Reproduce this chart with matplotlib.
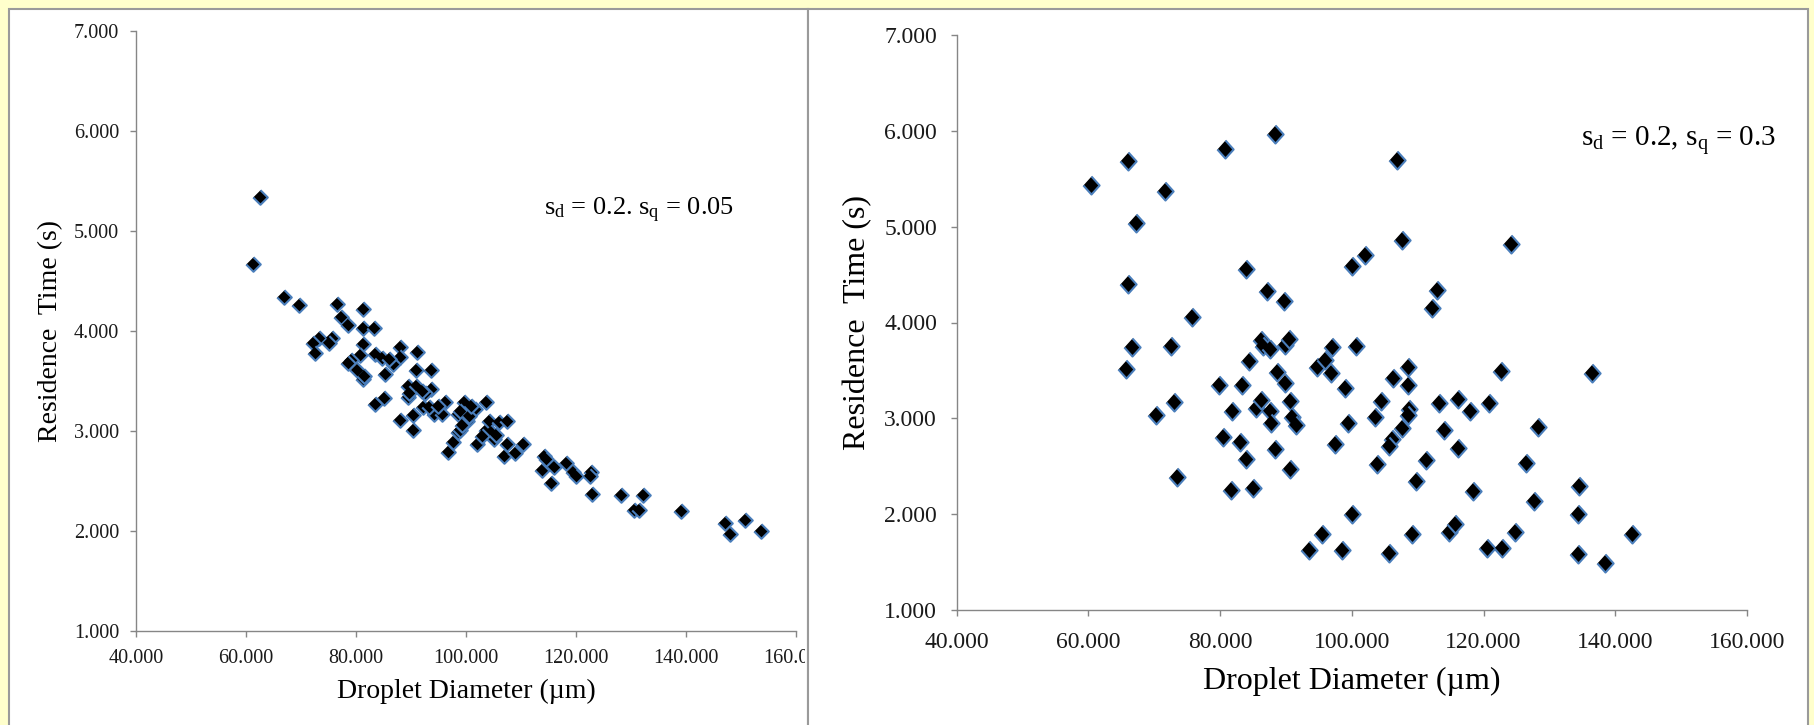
import matplotlib
matplotlib.use("Agg")
import matplotlib.pyplot as plt
from matplotlib.patches import Rectangle
from matplotlib.transforms import Bbox

plt.rcParams["font.family"] = ["Liberation Serif", "DejaVu Serif"]
plt.rcParams["mathtext.fontset"] = "custom"
plt.rcParams["mathtext.rm"] = "Liberation Serif"
plt.rcParams["mathtext.it"] = "Liberation Serif:italic"

# left panel: s_d = 0.2, s_q = 0.05
left_diameter = [62.5, 61.3, 66.9, 69.6, 76.5, 81.2, 77.2, 78.6, 81.3, 83.3,
                 73.2, 75.6, 72.2, 75.0, 72.6, 81.3, 88.0, 91.0, 83.4, 80.8,
                 84.7, 88.0, 79.0, 80.2, 81.2, 85.2, 86.8, 83.4, 85.0, 88.0,
                 90.9, 93.7, 90.4, 89.4, 90.9, 93.7, 89.4, 92.1, 92.5, 90.4,
                 94.2, 96.1, 95.6, 93.2, 96.8, 97.7, 98.5, 98.5, 99.7, 98.9,
                 100.1, 101.6, 102.0, 103.7, 103.7, 104.2, 104.6, 105.1, 106.0, 107.5,
                 107.0, 107.5, 108.9, 110.3, 114.1, 113.8, 115.1, 116.0, 115.5, 118.1,
                 119.4, 120.0, 122.7, 122.9, 128.2, 130.5, 131.4, 132.2, 139.1, 147.1,
                 148.0, 150.8, 153.7, 99.0, 95.0, 100.5, 101.0, 89.6, 92.0, 86.0,
                 99.3, 103.0, 105.5, 122.5, 114.5, 78.5, 81.5]
left_time = [5.34, 4.67, 4.34, 4.26, 4.27, 4.22, 4.14, 4.06, 4.03, 4.03,
             3.93, 3.93, 3.88, 3.88, 3.78, 3.87, 3.84, 3.79, 3.77, 3.76,
             3.73, 3.74, 3.71, 3.61, 3.52, 3.57, 3.67, 3.27, 3.33, 3.11,
             3.61, 3.61, 3.01, 3.45, 3.45, 3.42, 3.34, 3.24, 3.38, 3.16,
             3.17, 3.29, 3.17, 3.24, 2.79, 2.89, 2.99, 3.17, 3.29, 3.01,
             3.10, 3.22, 2.87, 3.29, 3.01, 3.10, 2.99, 2.92, 3.09, 3.10,
             2.75, 2.87, 2.78, 2.87, 2.75, 2.61, 2.68, 2.64, 2.48, 2.68,
             2.59, 2.55, 2.59, 2.37, 2.36, 2.21, 2.21, 2.36, 2.20, 2.08,
             1.97, 2.11, 2.00, 3.20, 3.25, 3.15, 3.25, 3.38, 3.40, 3.72,
             3.06, 2.95, 2.96, 2.55, 2.72, 3.68, 3.55]

# right panel: s_d = 0.2, s_q = 0.3
right_diameter = [60.4, 66.0, 67.3, 71.7, 66.0, 65.8, 66.7, 72.5, 75.8, 70.3,
                  73.0, 73.4, 80.7, 88.4, 106.8, 107.6, 124.2, 100.0, 102.0, 113.0,
                  112.2, 83.9, 87.1, 89.7, 136.4, 122.6, 84.4, 79.9, 83.3, 81.8,
                  80.4, 83.0, 84.0, 81.7, 85.0, 86.2, 86.5, 87.6, 89.9, 90.4,
                  88.7, 89.9, 90.7, 90.9, 91.6, 85.5, 86.2, 87.6, 87.7, 88.4,
                  90.7, 94.8, 96.0, 97.0, 96.8, 99.0, 99.4, 97.5, 100.7, 103.6,
                  104.4, 103.9, 106.3, 108.5, 108.5, 108.7, 108.5, 107.6, 106.1, 105.6,
                  113.3, 116.2, 118.0, 120.9, 114.0, 116.1, 111.2, 109.7, 118.4, 128.3,
                  126.4, 127.7, 134.5, 134.4, 134.3, 138.4, 142.5, 100.0, 95.5, 93.5,
                  98.5, 105.6, 109.1, 114.8, 115.6, 120.6, 122.8, 124.8]
right_time = [5.44, 5.69, 5.04, 5.37, 4.40, 3.52, 3.74, 3.76, 4.06, 3.04,
              3.17, 2.39, 5.81, 5.97, 5.70, 4.86, 4.82, 4.59, 4.70, 4.34,
              4.15, 4.56, 4.33, 4.22, 3.47, 3.49, 3.60, 3.35, 3.35, 3.08,
              2.81, 2.75, 2.58, 2.25, 2.27, 3.82, 3.76, 3.72, 3.77, 3.83,
              3.48, 3.37, 3.18, 3.01, 2.93, 3.11, 3.19, 3.08, 2.95, 2.68,
              2.47, 3.54, 3.61, 3.74, 3.47, 3.32, 2.95, 2.73, 3.75, 3.01,
              3.18, 2.52, 3.42, 3.54, 3.35, 3.10, 3.04, 2.90, 2.78, 2.71,
              3.16, 3.20, 3.08, 3.16, 2.88, 2.69, 2.57, 2.35, 2.24, 2.91,
              2.53, 2.14, 2.29, 2.00, 1.58, 1.49, 1.79, 2.00, 1.79, 1.63,
              1.63, 1.60, 1.79, 1.81, 1.90, 1.65, 1.65, 1.81]

x_ticks = [40, 60, 80, 100, 120, 140, 160]
y_ticks = [1, 2, 3, 4, 5, 6, 7]

W, H = 1814, 725
fig = plt.figure(figsize=(W / 100, H / 100), dpi=100)
fig.patch.set_facecolor("#FFFFCC")

# white panels with grey frame (pixel coords -> figure fraction)
for x0, x1 in [(9, 808), (808, 1808)]:
    fig.add_artist(Rectangle((x0 / W, -0.01), (x1 - x0) / W, 1 - 9 / H + 0.01,
                             transform=fig.transFigure, facecolor="white",
                             edgecolor="#9A9A9A", linewidth=1.5, zorder=0))

gray = "#868686"


def setup(ax, tick_fs, label_fs, pad_x, pad_y):
    ax.set_xlim(40, 160)
    ax.set_ylim(1, 7)
    ax.set_xticks(x_ticks)
    ax.set_yticks(y_ticks)
    ax.set_xticklabels([f"{v:.3f}" for v in x_ticks])
    ax.set_yticklabels([f"{v:.3f}" for v in y_ticks])
    for s in ["top", "right"]:
        ax.spines[s].set_visible(False)
    for s in ["left", "bottom"]:
        ax.spines[s].set_color(gray)
        ax.spines[s].set_linewidth(1.0)
    ax.tick_params(axis="x", direction="out", length=4.5, width=1.0, color=gray,
                   labelsize=tick_fs, labelcolor="#1a1a1a", pad=pad_x)
    ax.tick_params(axis="y", direction="out", length=4.5, width=1.0, color=gray,
                   labelsize=tick_fs, labelcolor="#1a1a1a", pad=pad_y)
    ax.set_facecolor("none")


# left chart
ax1 = fig.add_axes([136 / W, 1 - 630.6 / H, 660 / W, 599.6 / H])
setup(ax1, 14.5, 20, 8.5, 7.5)
ax1.plot(left_diameter, left_time, linestyle="none",
         marker=[(0, 1), (1, 0), (0, -1), (-1, 0)], markersize=10.5,
         markerfacecolor="black", markeredgecolor="#4A7EBB", markeredgewidth=1.5)
ax1.set_xlabel("Droplet Diameter (µm)", fontsize=20)
ax1.set_ylabel("Residence  Time (s)", fontsize=20)
ax1.xaxis.set_label_coords(0.5, -0.1007)
ax1.xaxis.label.set_va("center")
ax1.yaxis.set_label_coords(-0.129, 0.5)
ax1.yaxis.label.set_va("center")
ax1.text(0.618, 0.693, r"s$_\mathrm{d}$ = 0.2. s$_\mathrm{q}$ = 0.05", transform=ax1.transAxes,
         fontsize=19, va="baseline", ha="left")

# the 160.000 label is cut off by the panel edge
clip = Bbox.from_extents(9, 0, 805, H)
for lbl in ax1.get_xticklabels():
    lbl.set_clip_box(clip)
    lbl.set_clip_on(True)

# right chart
ax2 = fig.add_axes([956.5 / W, 1 - 610 / H, 790.5 / W, 575 / H])
setup(ax2, 17, 23, 11, 9.5)
ax2.plot(right_diameter, right_time, linestyle="none",
         marker=[(0, 1), (0.9, 0), (0, -1), (-0.9, 0)], markersize=13,
         markerfacecolor="black", markeredgecolor="#4A7EBB", markeredgewidth=1.5)
ax2.set_xlabel("Droplet Diameter (µm)", fontsize=23)
ax2.set_ylabel("Residence  Time (s)", fontsize=23)
ax2.xaxis.set_label_coords(0.5, -0.125)
ax2.xaxis.label.set_va("center")
ax2.yaxis.set_label_coords(-0.1246, 0.5)
ax2.yaxis.label.set_va("center")
ax2.text(0.790, 0.808, r"s$_\mathrm{d}$ = 0.2, s$_\mathrm{q}$ = 0.3", transform=ax2.transAxes,
         fontsize=21, va="baseline", ha="left")

fig.savefig("out.png", dpi=100, facecolor=fig.get_facecolor())
